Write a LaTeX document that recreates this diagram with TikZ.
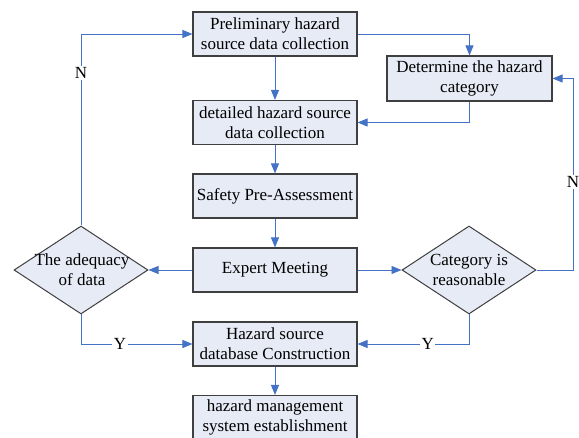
\documentclass[tikz,border=0pt]{standalone}
\usepackage{fontspec}
\setmainfont{Liberation Serif}
\usetikzlibrary{shapes.geometric,arrows.meta}
\definecolor{flowblue}{HTML}{4472C4}
\definecolor{boxfill}{HTML}{E6EBF5}
\definecolor{boxedge}{HTML}{3F3F3F}
\begin{document}
\begin{tikzpicture}[x=1pt,y=-1pt,
  txtfont/.style={font=\fontsize{17}{20}\selectfont},
  stepbox/.style={draw=boxedge, line width=1.1pt, fill=boxfill,
    minimum width=164pt, minimum height=44pt, inner sep=0pt,
    align=center, txtfont},
  decision/.style={diamond, draw=boxedge, line width=1pt, fill=boxfill,
    minimum width=134pt, minimum height=88pt, inner sep=0pt},
  dtext/.style={align=center, inner sep=0pt, txtfont},
  flow/.style={draw=flowblue, line width=0.9pt,
    -{Triangle[length=10pt,width=8pt]}},
  lab/.style={fill=white, inner sep=1.5pt, txtfont}
]
\useasboundingbox (0,0) rectangle (579,438);

% process steps
\node[stepbox] (prelim) at (275,34)   {Preliminary hazard\\source data collection};
\node[stepbox] (detail) at (275,122.5) {detailed hazard source\\data collection};
\node[stepbox] (safety) at (275,196)  {Safety Pre-Assessment};
\node[stepbox] (expert) at (275,270)  {Expert Meeting};
\node[stepbox] (db)     at (275,344)  {Hazard source\\database Construction};
\node[stepbox] (mgmt)   at (275,417.5) {hazard management\\system establishment};
\node[stepbox, minimum width=165pt, minimum height=45pt] (determ) at (469.5,78.5)
  {Determine the hazard\\category};

% decisions
\node[decision] (adq) at (81,270) {};
\node[dtext] (adqtext) at (82,270) {The adequacy\\of data};
\node[decision] (cat) at (469,270) {};
\node[dtext] (cattext) at (469,270) {Category is\\reasonable};

% main flow
\draw[flow] (prelim) -- (detail);
\draw[flow] (detail) -- (safety);
\draw[flow] (safety) -- (expert);
\draw[flow] (db) -- (mgmt);
\draw[flow] (prelim.east) -| (determ.north);
\draw[flow] (determ.south) |- (detail.east);
\draw[flow] (expert.west) -- (adq.east);
\draw[flow] (expert.east) -- (cat.west);

% loop back when data are insufficient
\coordinate (ltop) at (adq.north |- prelim.west);
\draw[flow] (adq.north) -- node[lab, pos=0.797] {N} (ltop) -- (prelim.west);

% loop back when the category is not reasonable
\coordinate (rbot) at (573,270);
\coordinate (rtop) at (rbot |- determ.east);
\draw[flow] (cat.east) -- (rbot) -- node[lab, pos=0.46] {N} (rtop) -- (determ.east);

% accepted branches
\coordinate (lbot) at (adq.south |- db.west);
\draw[flow] (adq.south) -- (lbot) -- node[lab, pos=0.35] {Y} (db.west);
\coordinate (cbot) at (cat.south |- db.east);
\draw[flow] (cat.south) -- (cbot) -- node[lab, pos=0.37] {Y} (db.east);
\end{tikzpicture}
\end{document}
